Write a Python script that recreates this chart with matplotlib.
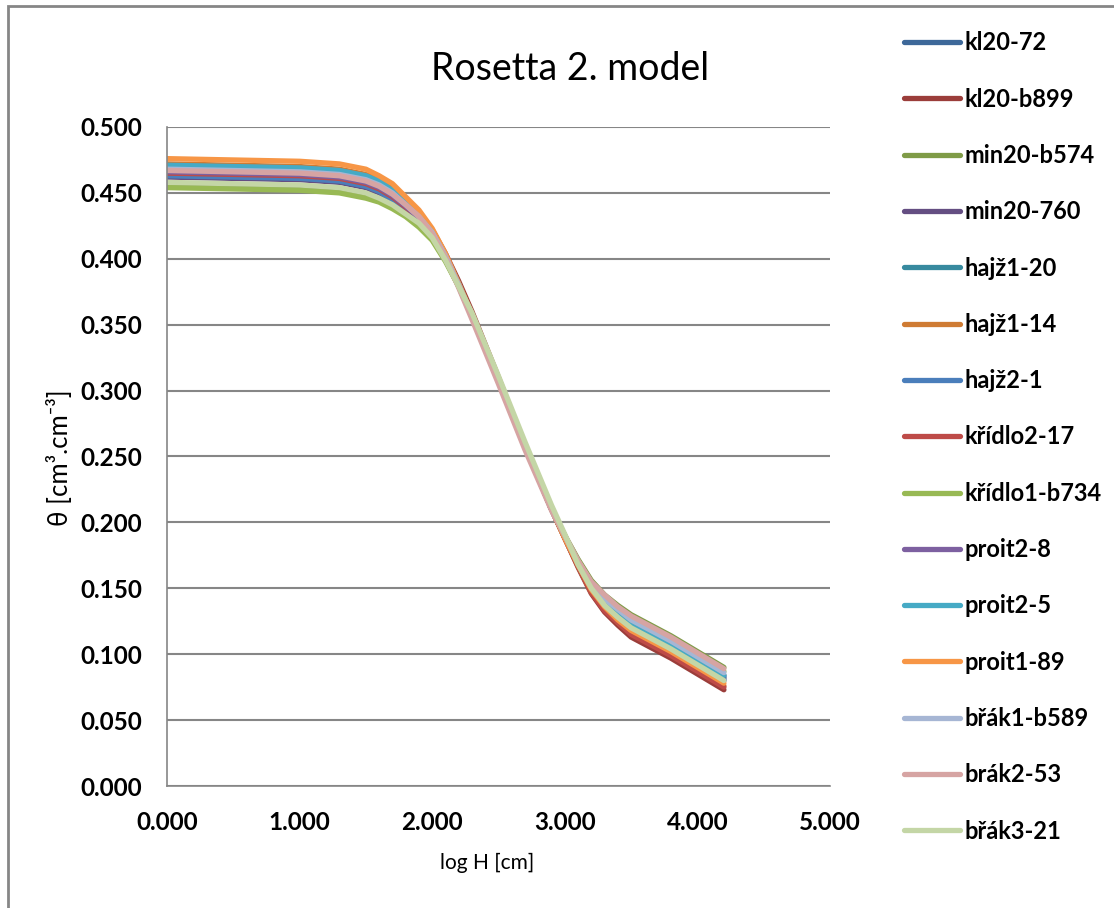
import matplotlib
matplotlib.use("Agg")
import matplotlib.pyplot as plt
from matplotlib.patches import Rectangle

# log H [cm] - spolecna osa pro vsechny krivky
log_h = [0.0, 1.0, 1.3, 1.5, 1.6, 1.7, 1.8, 1.9, 2.0, 2.1, 2.2, 2.3, 2.5, 2.7, 2.9, 3.0, 3.1, 3.2, 3.3, 3.4, 3.5, 3.8, 4.2]

# theta [cm3.cm-3]
kl20_72 = [0.463, 0.461, 0.459, 0.455, 0.451, 0.445, 0.438, 0.429, 0.418, 0.400, 0.380, 0.357,
           0.308, 0.258, 0.210, 0.189, 0.168, 0.150, 0.137, 0.128, 0.120, 0.104, 0.080]
kl20_b899 = [0.466, 0.464, 0.462, 0.458, 0.454, 0.448, 0.440, 0.433, 0.422, 0.404, 0.383, 0.360,
             0.310, 0.258, 0.210, 0.188, 0.166, 0.146, 0.132, 0.122, 0.113, 0.097, 0.073]
min20_b574 = [0.456, 0.454, 0.452, 0.448, 0.445, 0.440, 0.433, 0.426, 0.415, 0.399, 0.379, 0.356,
              0.308, 0.258, 0.210, 0.190, 0.172, 0.156, 0.145, 0.137, 0.130, 0.114, 0.090]
min20_760 = [0.462, 0.460, 0.458, 0.454, 0.450, 0.445, 0.437, 0.429, 0.417, 0.400, 0.380, 0.357,
             0.308, 0.258, 0.210, 0.189, 0.169, 0.151, 0.139, 0.130, 0.122, 0.106, 0.082]
hajz1_20 = [0.468, 0.466, 0.464, 0.460, 0.456, 0.450, 0.441, 0.432, 0.420, 0.402, 0.380, 0.357,
            0.308, 0.258, 0.210, 0.189, 0.169, 0.152, 0.140, 0.131, 0.123, 0.107, 0.083]
hajz1_14 = [0.472, 0.470, 0.468, 0.464, 0.460, 0.453, 0.444, 0.434, 0.421, 0.402, 0.381, 0.357,
            0.308, 0.258, 0.210, 0.188, 0.167, 0.147, 0.134, 0.124, 0.116, 0.100, 0.076]
hajz2_1 = [0.463, 0.461, 0.459, 0.455, 0.451, 0.445, 0.438, 0.429, 0.418, 0.400, 0.380, 0.357,
           0.308, 0.258, 0.210, 0.189, 0.169, 0.150, 0.138, 0.129, 0.121, 0.105, 0.081]
kridlo2_17 = [0.465, 0.463, 0.461, 0.457, 0.453, 0.447, 0.439, 0.430, 0.419, 0.401, 0.380, 0.357,
              0.308, 0.258, 0.210, 0.188, 0.167, 0.147, 0.133, 0.124, 0.115, 0.099, 0.075]
kridlo1_b734 = [0.454, 0.452, 0.450, 0.446, 0.443, 0.438, 0.432, 0.424, 0.414, 0.398, 0.379, 0.356,
                0.308, 0.258, 0.210, 0.190, 0.171, 0.154, 0.143, 0.135, 0.127, 0.111, 0.087]
proit2_8 = [0.466, 0.464, 0.462, 0.458, 0.454, 0.448, 0.440, 0.431, 0.419, 0.401, 0.380, 0.357,
            0.308, 0.258, 0.210, 0.189, 0.170, 0.152, 0.141, 0.132, 0.124, 0.108, 0.084]
proit2_5 = [0.471, 0.469, 0.467, 0.463, 0.459, 0.452, 0.444, 0.434, 0.421, 0.402, 0.381, 0.357,
            0.308, 0.258, 0.210, 0.189, 0.170, 0.152, 0.141, 0.132, 0.124, 0.108, 0.084]
proit1_89 = [0.476, 0.474, 0.472, 0.468, 0.463, 0.457, 0.447, 0.437, 0.423, 0.404, 0.381, 0.358,
             0.308, 0.258, 0.210, 0.188, 0.168, 0.149, 0.136, 0.126, 0.118, 0.102, 0.078]
brak1_b589 = [0.468, 0.466, 0.464, 0.460, 0.456, 0.450, 0.441, 0.432, 0.420, 0.402, 0.380, 0.357,
              0.308, 0.258, 0.210, 0.190, 0.170, 0.153, 0.142, 0.134, 0.126, 0.110, 0.086]
brak2_53 = [0.467, 0.465, 0.463, 0.459, 0.455, 0.449, 0.441, 0.432, 0.419, 0.401, 0.378, 0.354,
            0.305, 0.255, 0.209, 0.190, 0.171, 0.155, 0.145, 0.136, 0.129, 0.113, 0.089]
brak3_21 = [0.458, 0.456, 0.454, 0.450, 0.446, 0.441, 0.434, 0.427, 0.416, 0.399, 0.379, 0.359,
            0.311, 0.261, 0.213, 0.191, 0.168, 0.150, 0.137, 0.128, 0.120, 0.104, 0.080]

series = [kl20_72, kl20_b899, min20_b574, min20_760, hajz1_20, hajz1_14, hajz2_1, kridlo2_17,
          kridlo1_b734, proit2_8, proit2_5, proit1_89, brak1_b589, brak2_53, brak3_21]
labels = ["kl20-72", "kl20-b899", "min20-b574", "min20-760", "hajž1-20", "hajž1-14", "hajž2-1",
          "křídlo2-17", "křídlo1-b734", "proit2-8", "proit2-5", "proit1-89", "břák1-b589",
          "brák2-53", "břák3-21"]
colors = ["#3D6899", "#9B3D3A", "#7F9B47", "#644E82", "#378A9F", "#CF7B33", "#4A7EBB", "#BE4B48",
          "#98B954", "#7D60A0", "#46AAC5", "#F79646", "#A6B6D4", "#D6A4A3", "#C4D6A6"]

yticks = [0.0, 0.05, 0.1, 0.15, 0.2, 0.25, 0.3, 0.35, 0.4, 0.45, 0.5]
xticks = [0, 1, 2, 3, 4, 5]

fonts = ["Lato", "DejaVu Sans"]
plt.rcParams["font.family"] = fonts
grey = "#868686"

fig = plt.figure(figsize=(11.14, 9.08), dpi=100)
ax = fig.add_axes([167 / 1114, 1 - 786 / 908, (830 - 167) / 1114, (786 - 127) / 908])

for vals, lab, col in zip(series, labels, colors):
    ax.plot(log_h, vals, color=col, lw=3.8, label=lab, solid_capstyle="round", solid_joinstyle="round")

ax.set_xlim(0, 5)
ax.set_ylim(0, 0.5)
ax.set_xticks(xticks)
ax.set_yticks(yticks)
ax.set_xticklabels(["%.3f" % v for v in xticks], fontsize=17.5, fontweight="bold")
ax.set_yticklabels(["%.3f" % v for v in yticks], fontsize=17.5, fontweight="bold")
ax.tick_params(axis="both", length=0)
ax.tick_params(axis="y", pad=18)
ax.tick_params(axis="x", pad=18)

ax.yaxis.grid(True, color=grey, lw=1.5)
ax.set_axisbelow(True)
for s in ["top", "right"]:
    ax.spines[s].set_visible(False)
for s in ["left", "bottom"]:
    ax.spines[s].set_color(grey)
    ax.spines[s].set_linewidth(1.2)

ax.set_xlabel("log H [cm]", fontsize=15)
ax.set_ylabel("θ [cm³.cm⁻³]", fontsize=18.5)
ax.xaxis.set_label_coords((487 - 167) / 663, -(863 - 786) / 659)
ax.yaxis.set_label_coords(-(167 - 60) / 663, 1 - (458 - 127) / 659)
ax.xaxis.label.set_va("center")
ax.yaxis.label.set_va("center")

fig.text(570 / 1114, 1 - 80 / 908, "Rosetta 2. model", fontsize=27, ha="center", va="baseline")

leg = ax.legend(loc="upper left", bbox_to_anchor=(895 / 1114, 1 - 22 / 908), bbox_transform=fig.transFigure,
                frameon=False, prop={"family": fonts, "size": 17, "weight": "bold"},
                handlelength=2.35, handletextpad=0.2, labelspacing=1.41, borderaxespad=0)

# ramecek grafu (v originale oriznuty vpravo a dole)
fig.patches.append(Rectangle((8 / 1114, -0.1), 1.2, 1 - 6 / 908 + 0.1, transform=fig.transFigure,
                             fill=False, edgecolor=grey, lw=2))

fig.savefig("out.png", dpi=100)
